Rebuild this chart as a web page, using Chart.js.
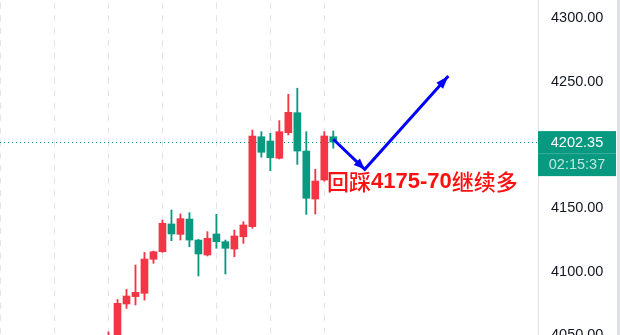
<!DOCTYPE html>
<html>
<head>
<meta charset="utf-8">
<script src="https://cdn.jsdelivr.net/npm/chart.js@4"></script>
<style>
  html, body { margin: 0; padding: 0; background: #fff; overflow: hidden; }
  .wrap { width: 617px; height: 335px; border-right: 3px solid #dfe1e6; }
</style>
</head>
<body>
<div class="wrap"><canvas id="myChart" width="617" height="335"></canvas></div>
<script>
// candle data, oldest first (index 0 is the first candle on screen)
const opens  = [4040, 4042, 4074.5, 4080.3, 4082.9, 4109.8, 4115.8, 4137.7, 4129.5, 4141.6, 4125, 4113.2, 4129.8,
                4123.7, 4117.9, 4127.6, 4135.5, 4206.6, 4203.2, 4189.6, 4209.8, 4225.6, 4195.3, 4157.4, 4172.4, 4206.6];
const closes = [4048, 4075, 4080.8, 4083.7, 4110, 4115.8, 4138.2, 4129.8, 4141.9, 4125, 4114, 4126.4, 4123.7,
                4118.5, 4128.2, 4136.9, 4207.2, 4194.3, 4190, 4210.6, 4225.9, 4195.3, 4158, 4171.6, 4207.2, 4202.35];
const highs  = [4052.5, 4078, 4086, 4105.3, 4115.3, 4116.3, 4140.8, 4148.7, 4145.6, 4146.6, 4125.5, 4131.6, 4145.3,
                4125, 4132.9, 4139.5, 4211.9, 4210.6, 4209.3, 4219.3, 4240.1, 4244.9, 4210.6, 4180.9, 4210.6, 4211.1];
const lows   = [4036, 4038, 4071, 4073.7, 4077.6, 4106.6, 4115.3, 4124.5, 4125, 4119.7, 4096.6, 4112.4, 4118.5,
                4098.2, 4111.8, 4122.4, 4134.3, 4190.4, 4179.8, 4189, 4208, 4184.8, 4145.3, 4145.6, 4171.5, 4197.5];

const lastPrice = 4202.35;
const countdown = '02:15:37';
const priceTicks = [4050, 4100, 4150, 4200, 4250, 4300];
const timeGrid = [-12, -6, 0, 6, 12, 18, 24];

// hand-drawn annotation: path in (candle index, price)
const arrowX = [25.0, 28.5, 37.8];
const arrowY = [4204.6, 4180.9, 4254.6];
const noteX = 24.3;
const noteY = 4170.9;
const noteParts = [
    { text: '回踩', font: '500 22px "Noto Sans CJK SC"' },
    { text: '4175-70', font: 'bold 22px "Liberation Sans", Arial' },
    { text: '继续多', font: '500 22px "Noto Sans CJK SC"' }
];

const UP = '#f23645';
const DOWN = '#089981';

const idx = opens.map((_, i) => i);
const colors = idx.map(i => closes[i] >= opens[i] ? UP : DOWN);

const priceLine = {
    id: 'priceLine',
    beforeDatasetsDraw(chart) {
        const { ctx, chartArea, scales } = chart;
        const y = Math.round(scales.y.getPixelForValue(lastPrice)) + 0.5;
        ctx.save();
        ctx.strokeStyle = DOWN;
        ctx.lineWidth = 1;
        ctx.setLineDash([1, 3]);
        ctx.beginPath();
        ctx.moveTo(chartArea.left, y);
        ctx.lineTo(chartArea.right, y);
        ctx.stroke();
        ctx.restore();
    },
    afterDatasetsDraw(chart) {
        const { ctx, scales } = chart;
        // arrow heads
        const pts = arrowX.map((x, i) => [scales.x.getPixelForValue(x), scales.y.getPixelForValue(arrowY[i])]);
        ctx.save();
        ctx.fillStyle = '#0000ff';
        for (const [a, b, len] of [[0, 1, 11], [1, 2, 13]]) {
            const [x1, y1] = pts[a];
            const [x2, y2] = pts[b];
            const ang = Math.atan2(y2 - y1, x2 - x1);
            ctx.beginPath();
            ctx.moveTo(x2, y2);
            ctx.lineTo(x2 - len * Math.cos(ang) + 4.5 * Math.sin(ang), y2 - len * Math.sin(ang) - 4.5 * Math.cos(ang));
            ctx.lineTo(x2 - len * Math.cos(ang) - 4.5 * Math.sin(ang), y2 - len * Math.sin(ang) + 4.5 * Math.cos(ang));
            ctx.closePath();
            ctx.fill();
        }
        // note text
        let x = scales.x.getPixelForValue(noteX);
        const y = scales.y.getPixelForValue(noteY);
        ctx.fillStyle = '#ff1010';
        ctx.textBaseline = 'middle';
        ctx.textAlign = 'left';
        for (const p of noteParts) {
            ctx.font = p.font;
            ctx.fillText(p.text, x, y);
            x += ctx.measureText(p.text).width;
        }
        ctx.restore();
    },
    afterDraw(chart) {
        const { ctx, chartArea, scales } = chart;
        const y = scales.y.getPixelForValue(lastPrice);
        const left = chartArea.right;
        const w = 78;
        ctx.save();
        ctx.fillStyle = DOWN;
        ctx.fillRect(left, y - 11, w, 45);
        ctx.fillStyle = 'rgba(255,255,255,0.2)';
        ctx.fillRect(left, y + 11, w, 1);
        ctx.textAlign = 'center';
        ctx.textBaseline = 'middle';
        ctx.font = '14.5px "Liberation Sans", Arial';
        ctx.fillStyle = '#ffffff';
        ctx.fillText(lastPrice.toFixed(2), left + w / 2, y + 0.5);
        ctx.fillStyle = 'rgba(255,255,255,0.75)';
        ctx.fillText(countdown, left + w / 2, y + 23);
        ctx.restore();
    }
};

const ctx = document.getElementById('myChart').getContext('2d');

const myChart = new Chart(ctx, {
    type: 'bar',
    data: {
        datasets: [
            {
                label: 'body',
                data: idx.map(i => ({ x: i, y: [opens[i], closes[i]] })),
                backgroundColor: colors,
                barThickness: 7,
                grouped: false,
                order: 1
            },
            {
                label: 'wick',
                data: idx.map(i => ({ x: i, y: [lows[i], highs[i]] })),
                backgroundColor: colors,
                barThickness: 1.2,
                grouped: false,
                order: 2
            },
            {
                type: 'line',
                label: 'arrow',
                data: arrowX.map((x, i) => ({ x: x, y: arrowY[i] })),
                borderColor: '#0000ff',
                borderWidth: 3,
                pointRadius: 0,
                order: 0
            }
        ]
    },
    options: {
        responsive: false,
        animation: false,
        layout: { padding: 0 },
        plugins: {
            legend: { display: false },
            tooltip: { enabled: false }
        },
        scales: {
            x: {
                type: 'linear',
                offset: false,
                min: -12.07,
                max: 47.77,
                afterBuildTicks: (scale) => {
                    scale.ticks = timeGrid.map(v => ({ value: v }));
                },
                grid: {
                    offset: false,
                    color: '#e0e3eb',
                    lineWidth: 1,
                    drawTicks: false
                },
                border: { display: false, dash: [6, 6.5], dashOffset: 9.8 },
                ticks: { display: false, padding: 0 }
            },
            y: {
                position: 'right',
                min: 4050,
                max: 4314.6,
                afterBuildTicks: (scale) => {
                    scale.ticks = priceTicks.map(v => ({ value: v }));
                },
                afterFit: (scale) => {
                    scale.width = 79;
                    scale.paddingTop = 0;
                    scale.paddingBottom = 0;
                },
                grid: { display: false, drawTicks: false },
                border: { display: true, color: '#e0e3eb', width: 1 },
                ticks: {
                    padding: 13,
                    color: '#131722',
                    font: { family: '"Liberation Sans", Arial', size: 14.5 },
                    callback: (v) => Number(v).toFixed(2)
                }
            }
        }
    },
    plugins: [priceLine]
});
</script>
</body>
</html>
